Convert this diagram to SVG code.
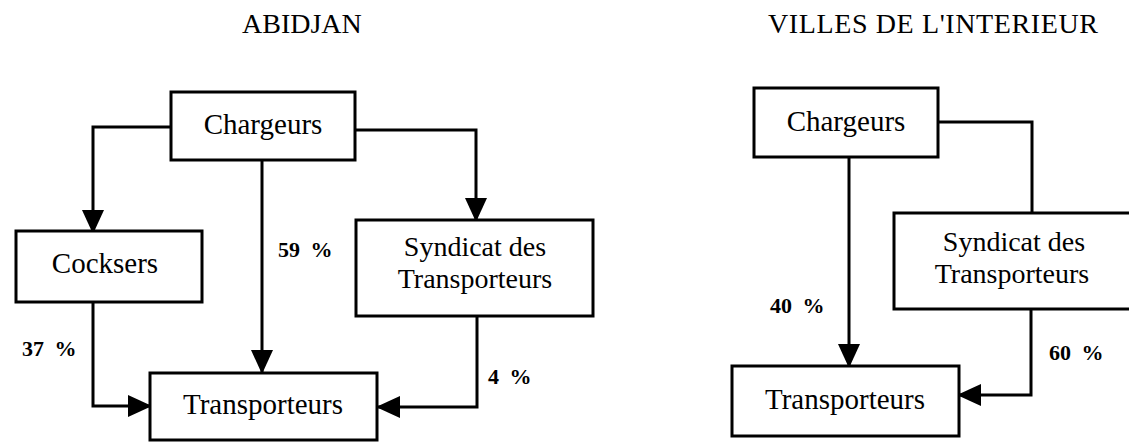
<svg xmlns="http://www.w3.org/2000/svg" width="1129" height="443" viewBox="0 0 1129 443">
<style>
  .box { fill: #fff; stroke: #000; stroke-width: 3; }
  .lbl { font-family: "Liberation Serif", "Times New Roman", serif; font-size: 29px; fill: #000; text-anchor: middle; }
  .lbl2 { font-family: "Liberation Serif", "Times New Roman", serif; font-size: 28px; fill: #000; text-anchor: middle; }
  .title { font-family: "Liberation Serif", "Times New Roman", serif; font-size: 28px; fill: #000; }
  .pct { font-family: "Liberation Serif", "Times New Roman", serif; font-size: 22px; font-weight: bold; fill: #000; word-spacing: 5px; }
  .edge { fill: none; stroke: #000; stroke-width: 3; }
  .arr { marker-end: url(#ah); }
</style>
<defs>
  <marker id="ah" markerUnits="userSpaceOnUse" markerWidth="24" markerHeight="22" viewBox="0 0 24 22" refX="23" refY="11" orient="auto">
    <path d="M0,0 L24,11 L0,22 z" fill="#000"/>
  </marker>
</defs>

<text class="title" x="242" y="33">ABIDJAN</text>
<text class="title" x="768" y="33" textLength="330" lengthAdjust="spacing">VILLES DE L'INTERIEUR</text>

<g id="connectors">
  <polyline class="edge arr" points="171,127 93,127 93,233"/>
  <line class="edge arr" x1="262" y1="160" x2="262" y2="373"/>
  <polyline class="edge arr" points="355,130 476,130 476,221"/>
  <polyline class="edge arr" points="93,302 93,406 151,406"/>
  <polyline class="edge arr" points="477,316 477,407 377,407"/>

  <line class="edge arr" x1="849" y1="157" x2="849" y2="367"/>
  <polyline class="edge" points="938,122 1032,122 1032,213"/>
  <polyline class="edge arr" points="1031,309 1031,395 958,395"/>
</g>

<g id="labels">
  <text class="pct" x="278" y="257">59 %</text>
  <text class="pct" x="22" y="356">37 %</text>
  <text class="pct" x="488" y="384">4 %</text>
  <text class="pct" x="770" y="313">40 %</text>
  <text class="pct" x="1049" y="360">60 %</text>
</g>

<g id="chargeurs-abidjan">
  <rect class="box" x="171" y="92" width="184" height="68"/>
  <text class="lbl" x="263" y="134">Chargeurs</text>
</g>
<g id="cocksers">
  <rect class="box" x="16" y="231" width="186" height="71"/>
  <text class="lbl" x="105" y="273">Cocksers</text>
</g>
<g id="syndicat-abidjan">
  <rect class="box" x="356" y="220" width="237" height="96"/>
  <text class="lbl2" x="475" y="256">Syndicat des</text>
  <text class="lbl2" x="475" y="288">Transporteurs</text>
</g>
<g id="transporteurs-abidjan">
  <rect class="box" x="150" y="373" width="227" height="67"/>
  <text class="lbl" x="263" y="414">Transporteurs</text>
</g>

<g id="chargeurs-interieur">
  <rect class="box" x="754" y="88" width="184" height="69"/>
  <text class="lbl" x="846" y="131">Chargeurs</text>
</g>
<g id="syndicat-interieur">
  <rect class="box" x="894" y="213" width="250" height="96"/>
  <text class="lbl2" x="1014" y="251">Syndicat des</text>
  <text class="lbl2" x="1012" y="283">Transporteurs</text>
</g>
<g id="transporteurs-interieur">
  <rect class="box" x="732" y="366" width="227" height="70"/>
  <text class="lbl" x="845" y="409">Transporteurs</text>
</g>
</svg>
